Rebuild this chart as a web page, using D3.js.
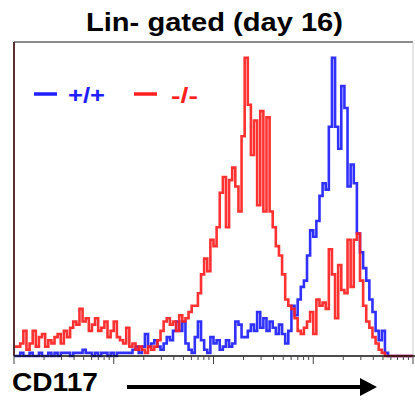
<!DOCTYPE html>
<html>
<head>
<meta charset="utf-8">
<script src="https://cdn.jsdelivr.net/npm/d3@7"></script>
<style>
  body { margin: 0; background: #fff; }
  text { font-family: "Liberation Sans", Arial, sans-serif; font-weight: bold; }
</style>
</head>
<body>
<svg width="415" height="400"></svg>
<script>
// CD117 histogram, 32 channels per decade, counts as % of max
const binsPerDecade = 32;
const wildType = [
  0,0,1,0,0,1,0,0,1,0,
  0,1,0,1,0,1,1,1,0,1,
  1,1,2,1,1,0,1,0,1,1,
  0,1,0,1,1,1,1,1,2,3,
  1,3,7,3,4,5,3,2,4,6,
  5,8,11,8,11,4,2,1,6,11,
  5,2,1,6,4,5,2,3,5,3,
  4,11,10,6,6,8,10,8,14,9,
  12,8,11,9,7,10,7,4,8,16,
  13,18,22,24,32,40,38,43,51,55,
  53,73,95,73,66,86,79,54,61,55,
  39,33,28,24,18,14,8,5,8,1,
  0,0,0,0,0,0,0,0
];
const knockout = [
  3,3,4,8,2,4,8,3,6,7,
  3,5,4,6,7,4,8,6,9,11,
  10,15,11,12,8,10,12,8,9,11,
  6,8,11,6,5,4,9,3,4,2,
  3,2,1,3,2,3,5,8,11,12,
  10,11,8,13,11,12,14,16,16,20,
  26,31,27,37,35,41,52,57,41,56,
  60,54,46,70,95,80,64,75,48,78,
  46,76,46,41,35,32,26,18,16,15,
  12,8,7,9,11,14,7,18,16,17,
  15,34,26,12,29,21,20,37,22,37,
  39,24,16,11,9,6,4,2,1,0,
  0,0,0,0,0,0,0,0
];
const series = [
  { name: "+/+", values: wildType, color: "#1f1fff" },
  { name: "-/-", values: knockout, color: "#ff1f1f" }
];
const title = "Lin- gated (day 16)";
const axisLabel = "CD117";

const svg = d3.select("svg");
const plotL = 14, plotR = 413, plotT = 42, plotB = 356;

let x = d3.scaleLog().domain([1, 1e4]).range([plotL, plotR]);
let y = d3.scaleLinear().domain([0, 100]).range([plotB, plotT]);

// frame
svg.append("line").attr("x1", plotL).attr("x2", plotR).attr("y1", plotT).attr("y2", plotT)
  .attr("stroke", "#666").attr("stroke-width", 1.5);
svg.append("line").attr("x1", plotR).attr("x2", plotR).attr("y1", plotT).attr("y2", plotB)
  .attr("stroke", "#ccc").attr("stroke-width", 1);

// histograms, blue first so red sits on top
let line = d3.line()
  .x(d => x(Math.pow(10, d[0] / binsPerDecade)))
  .y(d => y(d[1]))
  .curve(d3.curveStepAfter);

series.forEach(s => {
  let pts = s.values.map((v, i) => [i, v]);
  pts.push([s.values.length, s.values[s.values.length - 1]]);
  svg.append("path")
    .attr("d", line(pts))
    .attr("fill", "none")
    .attr("stroke", s.color)
    .attr("stroke-width", 2.6)
    .attr("opacity", 0.92);
});

svg.append("line").attr("x1", plotL).attr("x2", plotL).attr("y1", plotT).attr("y2", plotB)
  .attr("stroke", "#5a2e2e").attr("stroke-width", 2);

// x axis with log ticks
svg.append("line").attr("x1", plotL).attr("x2", 415).attr("y1", plotB).attr("y2", plotB)
  .attr("stroke", "#111").attr("stroke-width", 1.5);
svg.selectAll(".tick")
  .data(x.ticks())
  .enter()
  .append("line")
  .attr("class", "tick")
  .attr("x1", d => x(d)).attr("x2", d => x(d))
  .attr("y1", plotB)
  .attr("y2", d => {
    let l = Math.log10(d);
    return plotB + (Math.abs(l - Math.round(l)) < 1e-6 ? 8 : 4);
  })
  .attr("stroke", "#444").attr("stroke-width", 1);

// title
svg.append("text")
  .attr("x", 86).attr("y", 31)
  .attr("font-size", 25)
  .attr("textLength", 257).attr("lengthAdjust", "spacingAndGlyphs")
  .text(title);

// legend
const legendX = [34, 134];
series.forEach((s, i) => {
  svg.append("line")
    .attr("x1", legendX[i]).attr("x2", legendX[i] + 23)
    .attr("y1", 94).attr("y2", 94)
    .attr("stroke", s.color).attr("stroke-width", 3.5);
  svg.append("text")
    .attr("x", legendX[i] + (i === 0 ? 34 : 37)).attr("y", 103)
    .attr("font-size", 22)
    .attr("fill", s.color)
    .attr("textLength", i === 0 ? 37 : 27).attr("lengthAdjust", "spacingAndGlyphs")
    .text(s.name);
});

// axis label and arrow
svg.append("text")
  .attr("x", 12).attr("y", 391)
  .attr("font-size", 26)
  .attr("textLength", 86).attr("lengthAdjust", "spacingAndGlyphs")
  .text(axisLabel);
svg.append("line").attr("x1", 127).attr("x2", 362).attr("y1", 387).attr("y2", 387)
  .attr("stroke", "#000").attr("stroke-width", 4);
svg.append("path").attr("d", "M360,378L377,387L360,396Z").attr("fill", "#000");
</script>
</body>
</html>
